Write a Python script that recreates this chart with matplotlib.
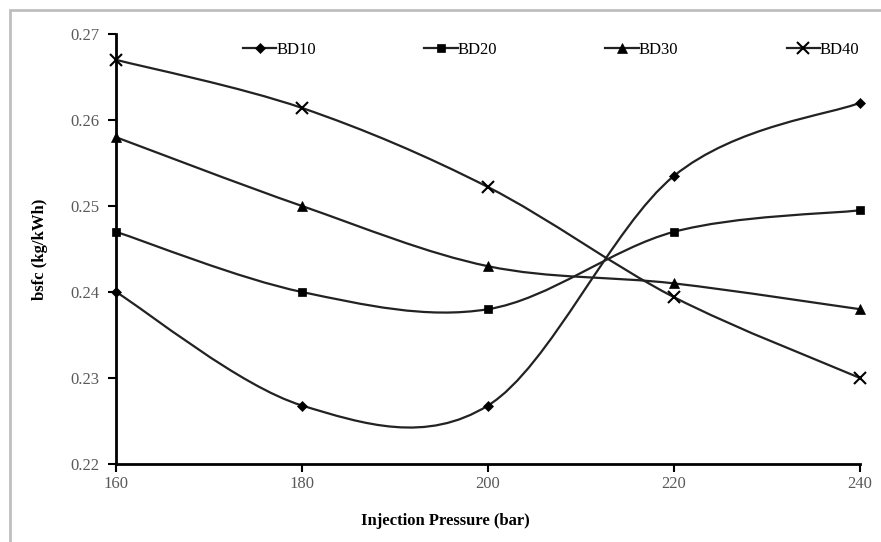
import matplotlib
matplotlib.use('Agg')
import matplotlib.pyplot as plt
from matplotlib.path import Path
from matplotlib.patches import PathPatch, Rectangle
from matplotlib.lines import Line2D

# Data
pressure = [160, 180, 200, 220, 240]
bd10 = [0.240, 0.2268, 0.2268, 0.2535, 0.262]
bd20 = [0.247, 0.240, 0.238, 0.247, 0.2495]
bd30 = [0.258, 0.250, 0.243, 0.241, 0.238]
bd40 = [0.267, 0.2614, 0.2522, 0.2394, 0.230]
series = ['BD10', 'BD20', 'BD30', 'BD40']
markers = ['D', 's', '^', 'x']
msizes = [5, 6, 7, 8]

plt.rcParams['font.family'] = ['Liberation Serif', 'DejaVu Serif']


def smooth_path(xs, ys):
    # Excel-style smoothed line: Catmull-Rom segments as cubic Beziers
    pts = list(zip(xs, ys))
    verts = [pts[0]]
    codes = [Path.MOVETO]
    n = len(pts)
    for i in range(n - 1):
        p0 = pts[i - 1] if i > 0 else pts[i]
        p1 = pts[i]
        p2 = pts[i + 1]
        p3 = pts[i + 2] if i + 2 < n else pts[i + 1]
        c1 = (p1[0] + (p2[0] - p0[0]) / 6, p1[1] + (p2[1] - p0[1]) / 6)
        c2 = (p2[0] - (p3[0] - p1[0]) / 6, p2[1] - (p3[1] - p1[1]) / 6)
        verts += [c1, c2, p2]
        codes += [Path.CURVE4] * 3
    return Path(verts, codes)


fig = plt.figure(figsize=(8.81, 5.42), dpi=100)
W, H = 881, 542
ax = fig.add_axes([116 / W, 1 - 464 / H, (860 - 116) / W, (464 - 34) / H])

handles = []
for name, vals, m, ms in zip(series, [bd10, bd20, bd30, bd40], markers, msizes):
    patch = PathPatch(smooth_path(pressure, vals), facecolor='none',
                      edgecolor='#222222', lw=1.6, transform=ax.transData,
                      clip_on=False, zorder=3)
    ax.add_patch(patch)
    ax.plot(pressure, vals, linestyle='none', marker=m, markersize=ms,
            color='black', markeredgewidth=1.5 if m == 'x' else 0.5,
            clip_on=False, zorder=4)
    handles.append(Line2D([], [], color='#222222', lw=1.6, marker=m,
                          markersize=ms, markeredgewidth=1.5 if m == 'x' else 0.5,
                          markerfacecolor='black', markeredgecolor='black'))

ax.set_xlim(160, 240)
ax.set_ylim(0.22, 0.27)
ax.set_xticks([160, 180, 200, 220, 240])
ax.set_yticks([0.22, 0.23, 0.24, 0.25, 0.26, 0.27])
ax.set_yticklabels(['0.22', '0.23', '0.24', '0.25', '0.26', '0.27'])
for s in ['top', 'right']:
    ax.spines[s].set_visible(False)
for s in ['left', 'bottom']:
    ax.spines[s].set_linewidth(2)
    ax.spines[s].set_color('black')
ax.tick_params(direction='out', length=6, width=1.5, colors='black',
               labelcolor='#595959', labelsize=12, pad=6)
ax.tick_params(axis='x', pad=3)

ax.set_xlabel('Injection Pressure (bar)', fontsize=12, fontweight='bold',
              labelpad=10)
ax.xaxis.set_label_coords(0.443, -0.115)
ax.set_ylabel('bsfc (kg/kWh)', fontsize=12, fontweight='bold', labelpad=16)

ax.legend(handles, series, ncol=4, loc='upper center',
          bbox_to_anchor=(0.585, 1.016), frameon=False, fontsize=12,
          handlelength=2.0, handletextpad=0.0, columnspacing=6.5)

# outer chart frame
fig.patches.append(Rectangle((10 / W, -0.1), 1.2, 1 - 10 / H + 0.1,
                             transform=fig.transFigure, fill=False,
                             edgecolor='#bfbfbf', lw=2))

fig.savefig('out.png', dpi=100)
